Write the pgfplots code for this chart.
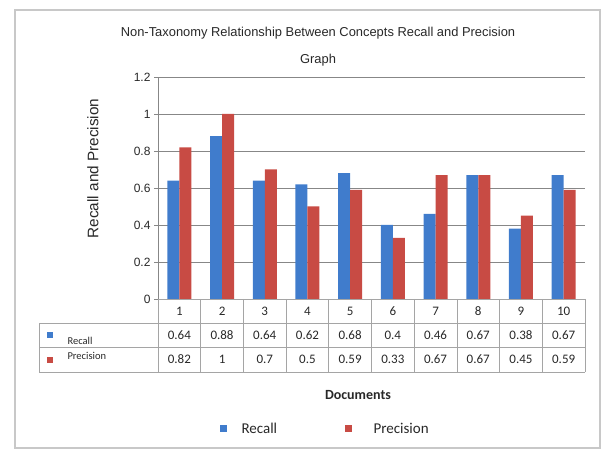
\documentclass[border=0pt]{standalone}
\usepackage{pgfplots}
\pgfplotsset{compat=1.18}
\usepackage{fontspec}
\setmainfont{Liberation Sans}
\newfontfamily\carlito{Carlito}
\definecolor{barblue}{RGB}{64,124,204}
\definecolor{barred}{RGB}{200,75,68}
\definecolor{gridc}{RGB}{135,135,135}
\definecolor{tabc}{RGB}{165,165,165}
\definecolor{framec}{RGB}{200,200,200}
\definecolor{txt}{RGB}{40,40,40}
\begin{document}
\begin{tikzpicture}[x=1pt,y=1pt]
\path (0,0) rectangle (602,450);
\draw[framec, line width=1.5pt] (15,2) rectangle (600,440);
\begin{axis}[
  at={(158pt,151pt)}, anchor=south west,
  width=427pt, height=222pt, scale only axis,
  xmin=0.5, xmax=10.5, ymin=0, ymax=1.2,
  ytick={0,0.2,0.4,0.6,0.8,1,1.2},
  yticklabels={0,0.2,0.4,0.6,0.8,1,1.2},
  xtick=\empty,
  ymajorgrids, grid style={gridc, line width=0.8pt},
  axis x line=none,
  axis y line*=left,
  y axis line style={gridc, line width=0.8pt},
  tick align=outside, major tick length=4pt,
  ytick style={gridc, line width=0.8pt},
  yticklabel style={font=\fontsize{12}{12}\selectfont, text=txt},
  ybar=0pt, bar width=12pt,
  clip=false,
]
\addplot[fill=barblue, draw=none] coordinates {(1,0.64) (2,0.88) (3,0.64) (4,0.62) (5,0.68) (6,0.4) (7,0.46) (8,0.67) (9,0.38) (10,0.67)};
\addplot[fill=barred, draw=none] coordinates {(1,0.82) (2,1) (3,0.7) (4,0.5) (5,0.59) (6,0.33) (7,0.67) (8,0.67) (9,0.45) (10,0.59)};
\end{axis}
% data table
\draw[tabc, line width=0.8pt] (158,151) -- (585,151);
\draw[tabc, line width=0.8pt] (39,126.5) -- (585,126.5);
\draw[tabc, line width=0.8pt] (39,102.5) -- (585,102.5);
\draw[tabc, line width=0.8pt] (39,78) -- (585,78);
\draw[tabc, line width=0.8pt] (39,126.5) -- (39,78);
\foreach \k in {0,...,10} {
  \draw[tabc, line width=0.8pt] ({158+42.7*\k},151) -- ({158+42.7*\k},78);
}
\foreach \c [count=\i] in {1,2,3,4,5,6,7,8,9,10} {
  \node[font=\carlito\fontsize{13}{13}\selectfont, text=txt] at ({158+42.7*(\i-0.5)},138.5) {\c};
}
\foreach \v [count=\i] in {0.64,0.88,0.64,0.62,0.68,0.4,0.46,0.67,0.38,0.67} {
  \node[font=\carlito\fontsize{13}{13}\selectfont, text=txt] at ({158+42.7*(\i-0.5)},114.5) {\v};
}
\foreach \v [count=\i] in {0.82,1,0.7,0.5,0.59,0.33,0.67,0.67,0.45,0.59} {
  \node[font=\carlito\fontsize{13}{13}\selectfont, text=txt] at ({158+42.7*(\i-0.5)},90.5) {\v};
}
\fill[barblue] (47,112) rectangle (53,118);
\fill[barred] (47,87) rectangle (53,93);
\node[anchor=west, font=\carlito\fontsize{10.5}{10.5}\selectfont, text=txt] at (64,109) {Recall};
\node[anchor=west, font=\carlito\fontsize{10.5}{10.5}\selectfont, text=txt] at (64,94) {Precision};
% titles
\node[font=\fontsize{12.9}{12.9}\selectfont, text=txt] at (318,417) {Non-Taxonomy Relationship Between Concepts Recall and Precision};
\node[font=\fontsize{12.9}{12.9}\selectfont, text=txt] at (318,390) {Graph};
\node[rotate=90, font=\fontsize{15.3}{15.3}\selectfont, text=txt] at (93,281.5) {Recall and Precision};
\node[font=\carlito\bfseries\fontsize{14}{14}\selectfont, text=txt] at (358,55) {Documents};
% legend
\fill[barblue] (219.5,18.5) rectangle (226.5,25.5);
\fill[barred] (344.5,18.5) rectangle (351.5,25.5);
\node[anchor=west, font=\carlito\fontsize{15}{15}\selectfont, text=txt] at (238,22) {Recall};
\node[anchor=west, font=\carlito\fontsize{15}{15}\selectfont, text=txt] at (370,22) {Precision};
\end{tikzpicture}
\end{document}
